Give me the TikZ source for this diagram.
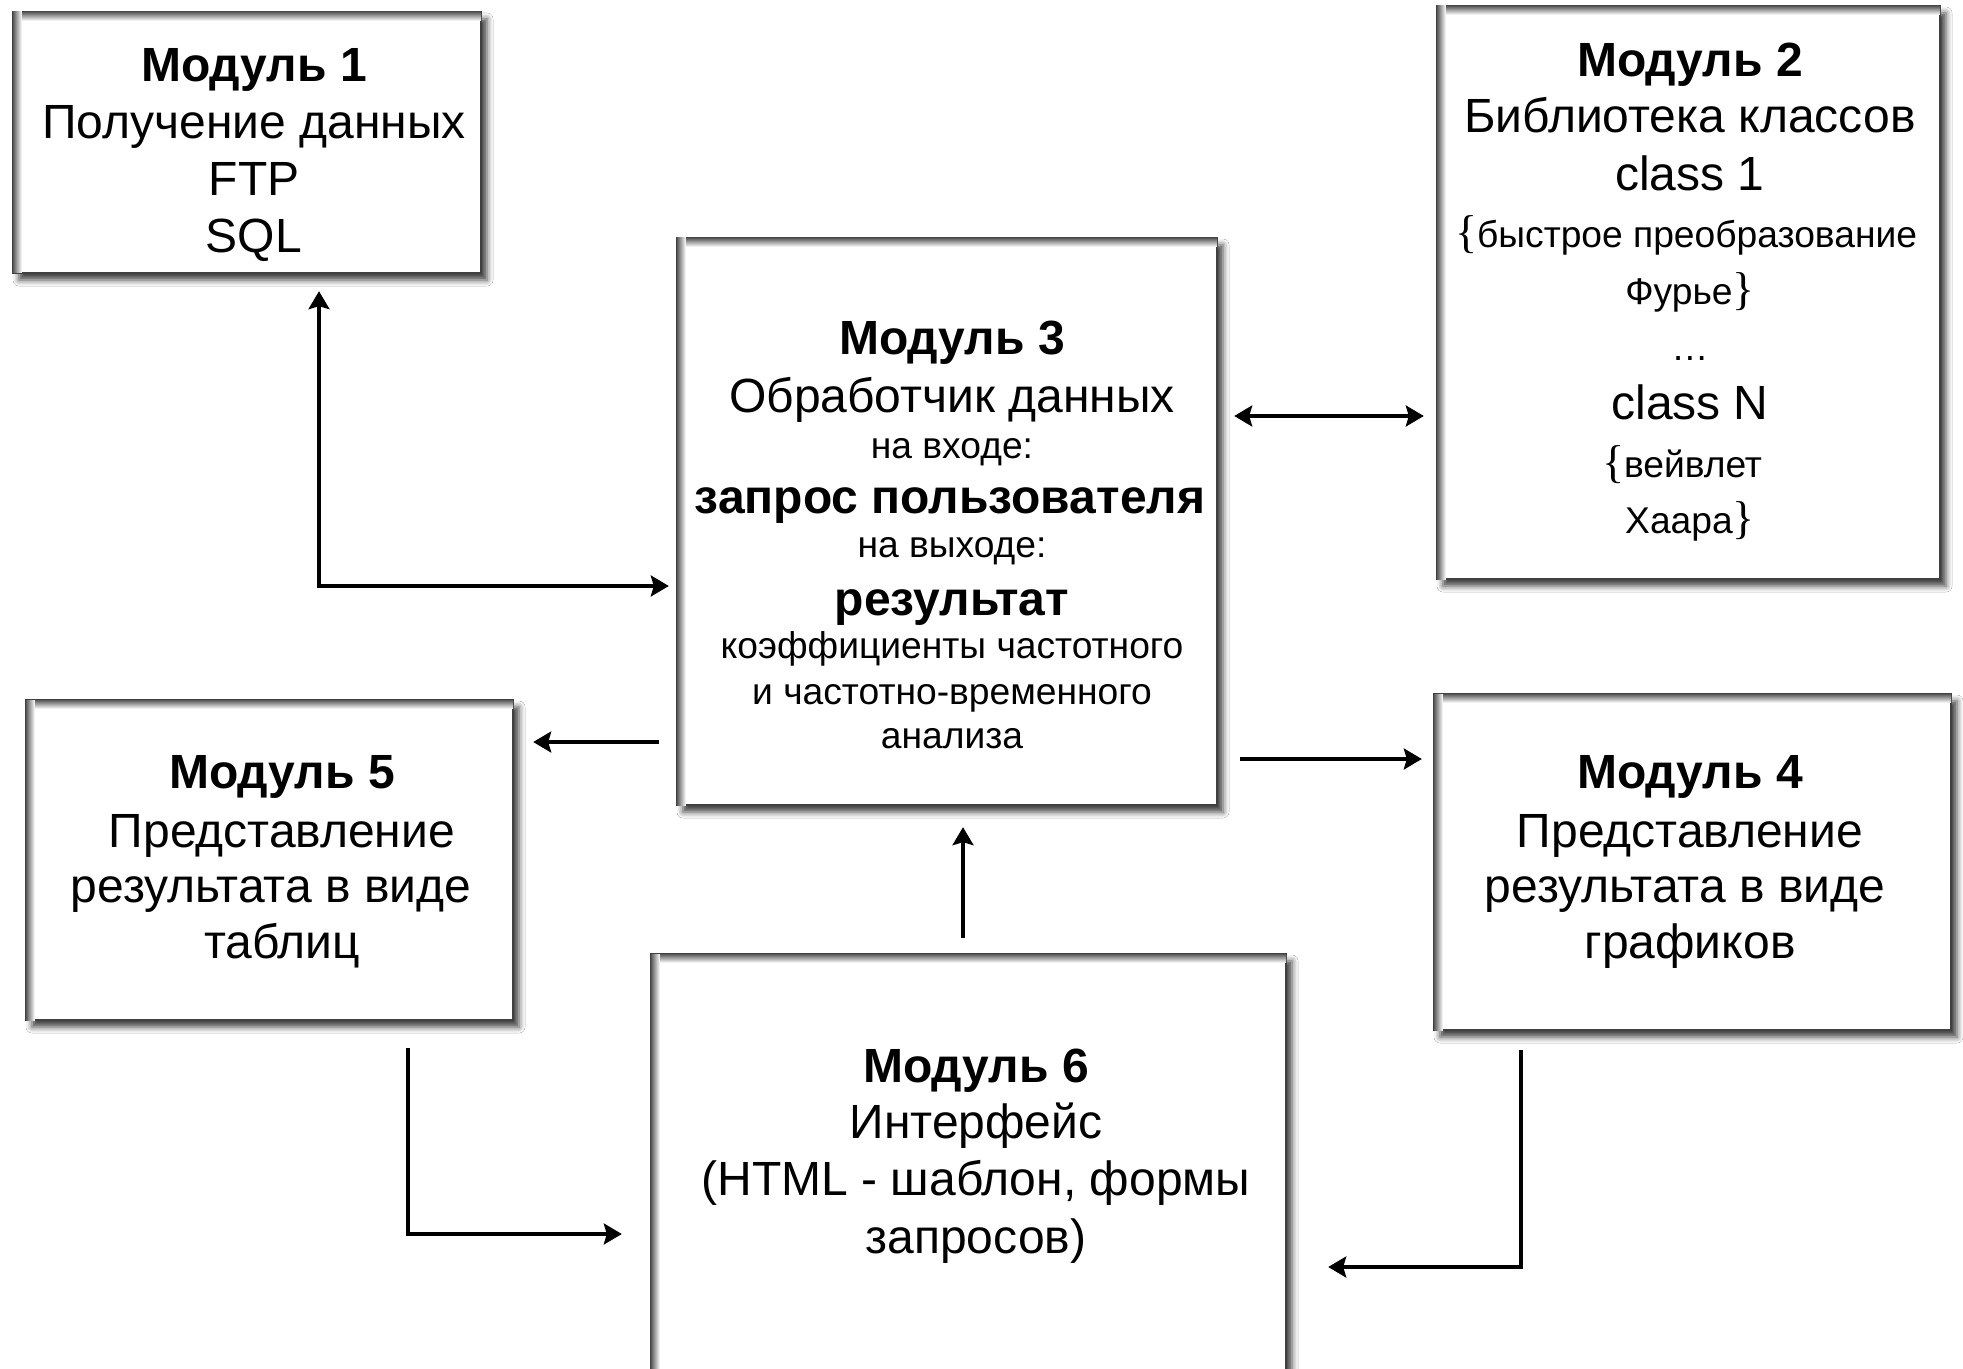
\documentclass[tikz,border=0pt]{standalone}
\usepackage{fontspec}
\setmainfont{Liberation Sans}
\newfontfamily\bracefont{Liberation Serif}
\usetikzlibrary{arrows.meta,shadows.blur}
\newcommand\fbig{\fontsize{24}{28}\selectfont}
\newcommand\fsmall{\fontsize{18.6}{22}\selectfont}
\newcommand\brl{{\bracefont\fontsize{23}{26}\selectfont\{}}
\newcommand\brr{{\bracefont\fontsize{23}{26}\selectfont\}}}
\newcommand\innershade[1]{%
  \shade[top color=black!65, bottom color=white]
    ([shift={(0.6pt,-0.6pt)}]#1.north west) rectangle ([shift={(-0.6pt,-5pt)}]#1.north east);
  \shade[left color=black!65, right color=white]
    ([shift={(0.6pt,-0.6pt)}]#1.north west) rectangle ([shift={(5pt,0.6pt)}]#1.south west);
}
\tikzset{
  modbox/.style={rectangle, draw=black!75, line width=1.2pt, fill=white, inner sep=0pt,
    blur shadow={shadow xshift=3pt, shadow yshift=-3.5pt, shadow blur radius=3pt, shadow opacity=75}},
  big/.style={anchor=base, inner sep=0pt, font=\fbig},
  small/.style={anchor=base, inner sep=0pt, font=\fsmall},
  >={Stealth[length=9pt,width=10.5pt,inset=1.5pt]},
  conn/.style={line width=1.6pt, black}
}
\begin{document}
\begin{tikzpicture}[x=0.5pt,y=-0.5pt]
\fill[white] (0,0) rectangle (1963,1369);
\useasboundingbox (0,0) rectangle (1963,1369);

% boxes
\node[modbox, minimum width=234pt, minimum height=130.5pt] (m1) at (247,142.5) {};
\node[modbox, minimum width=251.5pt, minimum height=286.5pt] (m2) at (1688.5,292.5) {};
\node[modbox, minimum width=270pt, minimum height=283.5pt] (m3) at (947,521.5) {};
\node[modbox, minimum width=258.5pt, minimum height=168pt] (m4) at (1692.5,862) {};
\node[modbox, minimum width=243.5pt, minimum height=160pt] (m5) at (269.5,860) {};
\node[modbox, minimum width=317.5pt, minimum height=223pt] (m6) at (968.5,1177) {};
\innershade{m1}\innershade{m2}\innershade{m3}\innershade{m4}\innershade{m5}\innershade{m6}

% module 1
\node[big] (t1a) at (254,82) {\bfseries Модуль 1};
\node[big] (t1b) at (254,139) {Получение данных};
\node[big] (t1c) at (254,196) {FTP};
\node[big] (t1d) at (254,253) {SQL};

% module 2
\node[big] (t2a) at (1690,77) {\bfseries Модуль 2};
\node[big] (t2b) at (1690,133) {Библиотека классов};
\node[big] (t2c) at (1690,191) {class 1};
\node[small] (t2d) at (1686,248) {\brl быстрое преобразование};
\node[small] (t2e) at (1690,305) {Фурье\brr};
\node[small] (t2f) at (1690,361) {…};
\node[big] (t2g) at (1690,419) {class N};
\node[small] (t2h) at (1682,477) {\brl вейвлет};
\node[small] (t2i) at (1690,533) {Хаара\brr};

% module 3
\node[big] (t3a) at (952,355) {\bfseries Модуль 3};
\node[big] (t3b) at (952,412) {Обработчик данных};
\node[small] (t3c) at (952,458) {на входе:};
\node[big] (t3d) at (950,513) {\bfseries запрос пользователя};
\node[small] (t3e) at (952,557) {на выходе:};
\node[big] (t3f) at (952,615) {\bfseries результат};
\node[small] (t3g) at (952,658) {коэффициенты частотного};
\node[small] (t3h) at (952,704) {и частотно-временного};
\node[small] (t3i) at (952,748) {анализа};

% module 4
\node[big] (t4a) at (1690,788) {\bfseries Модуль 4};
\node[big] (t4b) at (1690,847) {Представление};
\node[big] (t4c) at (1685,902) {результата в виде};
\node[big] (t4d) at (1690,958) {графиков};

% module 5
\node[big] (t5a) at (282,788) {\bfseries Модуль 5};
\node[big] (t5b) at (282,847) {Представление};
\node[big] (t5c) at (271,902) {результата в виде};
\node[big] (t5d) at (282,958) {таблиц};

% module 6
\node[big] (t6a) at (976,1082) {\bfseries Модуль 6};
\node[big] (t6b) at (976,1138) {Интерфейс};
\node[big] (t6c) at (976,1195) {(HTML - шаблон, формы};
\node[big] (t6d) at (976,1253) {запросов)};

% connector helper coordinates
\coordinate (k13) at (319,586);
\coordinate (k23) at (1330,416);
\coordinate (k35) at (600,742);
\coordinate (k34) at (1330,759);
\coordinate (k63) at (963,880);
\coordinate (k56) at (408,1234);
\coordinate (k46) at (1521,1267);

% connectors
\draw[conn,<->, shorten <=8.5pt, shorten >=3.5pt] (m1.south -| k13) |- (m3.west |- k13);
\draw[conn,<->, shorten <=8pt, shorten >=6pt] (m3.east |- k23) -- (m2.west |- k23);
\draw[conn,->, shorten <=8.5pt, shorten >=9.5pt] (m3.west |- k35) -- (m5.east |- k35);
\draw[conn,->, shorten <=11pt, shorten >=5.5pt] (m3.east |- k34) -- (m4.west |- k34);
\draw[conn,->, shorten <=7.5pt, shorten >=10.5pt] (m6.north -| k63) -- (m3.south -| k63);
\draw[conn,->, shorten <=13.5pt, shorten >=14pt] (m5.south -| k56) |- (m6.west |- k56);
\draw[conn,->, shorten <=9.5pt, shorten >=20.5pt] (m4.south -| k46) |- (m6.east |- k46);
\end{tikzpicture}
\end{document}
